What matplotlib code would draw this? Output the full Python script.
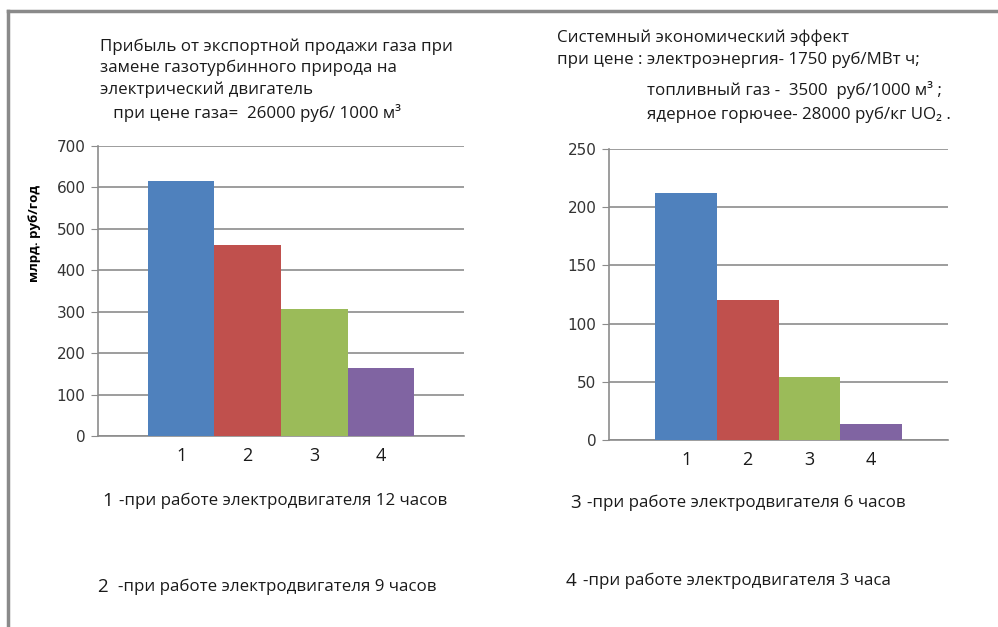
import matplotlib
matplotlib.use('Agg')
import matplotlib.pyplot as plt
from matplotlib.lines import Line2D

# data
categories = ['1', '2', '3', '4']
colors = ['#4F81BD', '#C0504D', '#9BBB59', '#8064A2']
profit_vals = [616, 462, 307, 164]
effect_vals = [212, 120, 54, 14]

title_left = ['Прибыль от экспортной продажи газа при',
              'замене газотурбинного природа на',
              'электрический двигатель',
              '   при цене газа=  26000 руб/ 1000 м³']
title_right = ['Системный экономический эффект',
               'при цене : электроэнергия- 1750 руб/МВт ч;',
               'топливный газ -  3500  руб/1000 м³ ;',
               'ядерное горючее- 28000 руб/кг UO₂ .']
notes = [('1', '-при работе электродвигателя 12 часов'),
         ('2', '-при работе электродвигателя 9 часов'),
         ('3', '-при работе электродвигателя 6 часов'),
         ('4', '-при работе электродвигателя 3 часа')]

TXT = ['Open Sans', 'DejaVu Sans']
GRID = '#8c8c8c'
FS = 12.2

W, H = 998, 627
fig = plt.figure(figsize=(W / 100, H / 100), dpi=100)


def px(x, y):
    return x / W, 1 - y / H


def bar_panel(rect, vals, ymax, step):
    ax = fig.add_axes(rect)
    pos = list(range(len(vals)))
    ax.bar(pos, vals, width=1.0, color=colors, zorder=3)
    ax.set_xlim(-1.25, 4.25)
    ax.set_ylim(0, ymax)
    ax.set_yticks(range(0, ymax + 1, step))
    ax.yaxis.grid(True, color=GRID, lw=1.2, zorder=0)
    for s in ['top', 'right']:
        ax.spines[s].set_visible(False)
    for s in ['left', 'bottom']:
        ax.spines[s].set_color(GRID)
        ax.spines[s].set_linewidth(1.2)
    ax.set_xticks(pos)
    ax.set_xticklabels(categories, fontsize=13, family=TXT, color='#1a1a1a')
    ax.tick_params(axis='x', length=0, pad=8)
    ax.tick_params(axis='y', length=5, color=GRID, labelsize=11,
                   labelcolor='#333333', pad=4)
    return ax


ax1 = bar_panel([98 / W, 1 - 436 / H, 366 / W, 290 / H], profit_vals, 700, 100)
ax1.set_ylabel('млрд. руб/год', fontsize=9.5, fontweight='bold', family=TXT)
ax1.yaxis.set_label_coords(-0.155, 0.70)

ax2 = bar_panel([609 / W, 1 - 440 / H, 339 / W, 291 / H], effect_vals, 250, 50)

# titles
ys_left = [47, 68, 90, 113]
for line, y in zip(title_left, ys_left):
    fig.text(*px(100, y), line, fontsize=FS, family=TXT, va='center', color='#1a1a1a')

fig.text(*px(557, 38), title_right[0], fontsize=FS, family=TXT, va='center', color='#1a1a1a')
fig.text(*px(557, 60), title_right[1], fontsize=FS, family=TXT, va='center', color='#1a1a1a')
fig.text(*px(647, 90), title_right[2], fontsize=FS, family=TXT, va='center', color='#1a1a1a')
fig.text(*px(647, 115), title_right[3], fontsize=FS, family=TXT, va='center', color='#1a1a1a')

# bottom notes
note_pos = [(102, 119, 501), (97, 118, 587), (570, 587, 503), (566, 583, 581)]
for (num, rest), (xn, xr, y) in zip(notes, note_pos):
    fig.text(*px(xn, y), num, fontsize=13.5, family=TXT, va='center', color='#1a1a1a')
    fig.text(*px(xr, y), rest, fontsize=FS, family=TXT, va='center', color='#1a1a1a')

# gray frame (top and left edges)
fig.add_artist(Line2D([8 / W, 1], [1 - 11 / H, 1 - 11 / H], color='#8a8a8a', lw=2.5))
fig.add_artist(Line2D([8 / W, 8 / W], [0, 1 - 11 / H], color='#8a8a8a', lw=2.5))

fig.savefig('out.png', dpi=100)
